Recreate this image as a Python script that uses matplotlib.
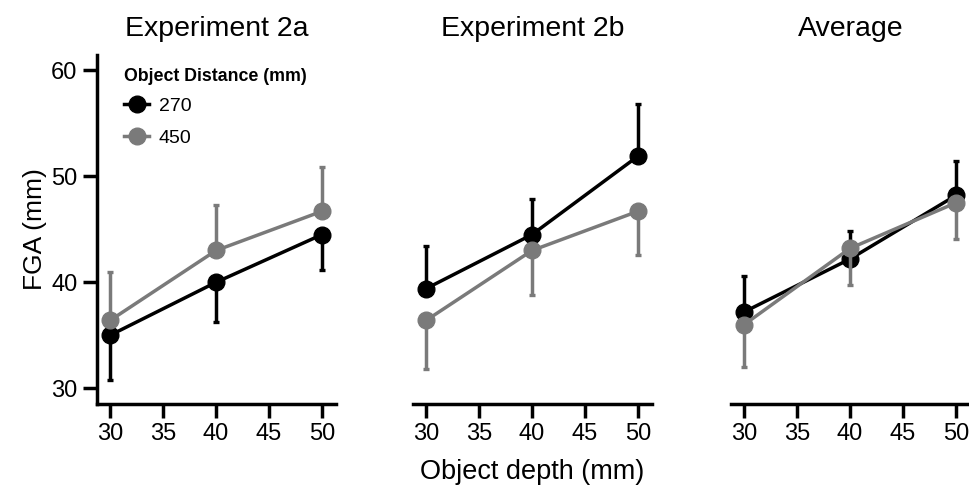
import numpy as np
import matplotlib
matplotlib.use("Agg")
import matplotlib.pyplot as plt

plt.rcParams['font.family'] = ['Liberation Sans', 'DejaVu Sans']

# --- data ---
depth = [30, 40, 50]
panel_titles = ["Experiment 2a", "Experiment 2b", "Average"]
distances = ["270", "450"]

# FGA means (mm) per panel, for 270 mm and 450 mm object distance
fga_270 = [[35.0, 40.0, 44.5], [39.4, 44.5, 51.9], [37.2, 42.2, 48.2]]
fga_450 = [[36.4, 43.0, 46.7], [36.4, 43.0, 46.7], [36.0, 43.2, 47.5]]
# one-sided error bar lengths
err_270 = [[4.2, 3.7, 3.3], [4.0, 3.4, 4.9], [3.4, 2.6, 3.2]]
err_450 = [[4.6, 4.3, 4.2], [4.6, 4.2, 4.1], [4.0, 3.5, 3.4]]
# direction of the error bar: -1 = down, +1 = up
dir_270 = [-1, 1, 1]
dir_450 = [1, -1, -1]

colors = {"270": "#000000", "450": "#7a7a7a"}
lw = 2.5

fig = plt.figure(figsize=(9.7, 4.87), dpi=100)
W, H = 970, 487
lefts = [97, 413, 731]
ax_w, top, bottom = 239, 55, 404

axes = []
for i, left in enumerate(lefts):
    ax = fig.add_axes([left / W, 1 - bottom / H, ax_w / W, (bottom - top) / H],
                      sharey=axes[0] if axes else None)
    axes.append(ax)

    handles = []
    for dist, means, errs, sign in [("270", fga_270[i], err_270[i], dir_270[i]),
                                    ("450", fga_450[i], err_450[i], dir_450[i])]:
        c = colors[dist]
        errs = np.array(errs)
        zeros = np.zeros_like(errs)
        yerr = [errs, zeros] if sign < 0 else [zeros, errs]
        ax.errorbar(depth, means, yerr=yerr, fmt='none', ecolor=c,
                    elinewidth=lw, capsize=2.5, capthick=2.4)
        ln, = ax.plot(depth, means, color=c, lw=lw, marker='o',
                      markersize=12, label=dist)
        handles.append(ln)

    ax.set_xlim(28.77, 51.32)
    ax.set_ylim(28.52, 61.44)
    ax.set_xticks([30, 35, 40, 45, 50])
    ax.set_yticks([30, 40, 50, 60])
    ax.set_title(panel_titles[i], fontsize=20.5, pad=14)

    for s in ['top', 'right']:
        ax.spines[s].set_visible(False)
    for s in ['left', 'bottom']:
        ax.spines[s].set_linewidth(lw)
    ax.tick_params(width=lw, length=10, labelsize=17, pad=4)

    if i == 0:
        ax.set_ylabel("FGA (mm)", fontsize=19, labelpad=3)
        leg = ax.legend(handles=handles, title="Object Distance (mm)",
                        loc='upper left', bbox_to_anchor=(0.06, 1.0),
                        frameon=False, fontsize=14, numpoints=1,
                        markerscale=1.0,
                        handlelength=1.3, handletextpad=0.5,
                        labelspacing=0.75, borderaxespad=0.25,
                        alignment='left',
                        title_fontproperties={'weight': 'bold', 'size': 12.8})
        leg._legend_box.sep = 9
    else:
        ax.spines['left'].set_visible(False)
        ax.tick_params(axis='y', left=False, labelleft=False)

axes[1].set_xlabel("Object depth (mm)", fontsize=19.5, labelpad=10)

fig.savefig("out.png", dpi=100)
